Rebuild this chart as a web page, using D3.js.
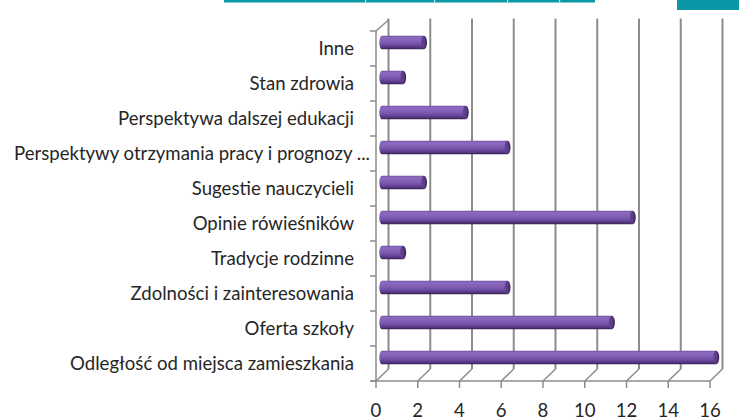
<!DOCTYPE html>
<html>
<head>
<meta charset="utf-8">
<script src="https://cdn.jsdelivr.net/npm/d3@7"></script>
<style>
  html, body { margin: 0; padding: 0; background: #ffffff; }
  svg { display: block; }
</style>
</head>
<body>
<div id="chart"></div>
<script>
// ---- data ----
const categories = [
  "Inne",
  "Stan zdrowia",
  "Perspektywa dalszej edukacji",
  "Perspektywy otrzymania pracy i prognozy ...",
  "Sugestie nauczycieli",
  "Opinie rówieśników",
  "Tradycje rodzinne",
  "Zdolności i zainteresowania",
  "Oferta szkoły",
  "Odległość od miejsca zamieszkania"
];
const values = [2, 1, 4, 6, 2, 12, 1, 6, 11, 16];
const xTicks = [0, 2, 4, 6, 8, 10, 12, 14, 16];

// ---- layout ----
const W = 739, H = 420;
const frontLeft = 376, frontRight = 710, frontTop = 31, frontBottom = 381;
const depthX = 12.5, depthY = -12;
const gridColor = "#8c8c8c";
const textColor = "#262626";
const fontFamily = "Lato, 'Open Sans', sans-serif";

const svg = d3.select("#chart").append("svg")
  .attr("width", W).attr("height", H);

const x = d3.scaleLinear().domain([0, 16]).range([frontLeft, frontRight]);
const y = d3.scaleBand().domain(categories).range([frontTop, frontBottom]).padding(0);

// ---- decorative teal header remnants ----
svg.append("rect").attr("x", 224).attr("y", 0).attr("width", 371).attr("height", 2.5).attr("fill", "#0a98a6");
[365, 434, 507, 559].forEach(g => {
  svg.append("rect").attr("x", g).attr("y", 0).attr("width", 1.2).attr("height", 2.5).attr("fill", "#bfe6ea");
});
svg.append("rect").attr("x", 677).attr("y", 0).attr("width", 62).attr("height", 10).attr("fill", "#0a98a6");

// ---- gradients ----
const defs = svg.append("defs");
const g1 = defs.append("linearGradient").attr("id", "barGrad")
  .attr("x1", 0).attr("y1", 0).attr("x2", 0).attr("y2", 1);
[[0, "#6d4e9e"], [0.12, "#8b69bf"], [0.35, "#8563b8"], [0.6, "#7653aa"], [0.82, "#5b3b8a"], [1, "#35204f"]]
  .forEach(([o, c]) => g1.append("stop").attr("offset", o).attr("stop-color", c));
const g2 = defs.append("linearGradient").attr("id", "capGrad")
  .attr("x1", 0).attr("y1", 0).attr("x2", 1).attr("y2", 0);
[[0, "#6a4c98"], [1, "#3a2358"]].forEach(([o, c]) => g2.append("stop").attr("offset", o).attr("stop-color", c));

// ---- back wall gridlines ----
const grid = svg.append("g");
xTicks.forEach(t => {
  grid.append("line")
    .attr("x1", x(t) + depthX).attr("x2", x(t) + depthX)
    .attr("y1", frontTop + depthY - 0.5).attr("y2", frontBottom + depthY)
    .attr("stroke", gridColor).attr("stroke-width", 2);
  grid.append("line")
    .attr("x1", x(t)).attr("x2", x(t) + depthX)
    .attr("y1", frontBottom).attr("y2", frontBottom + depthY)
    .attr("stroke", gridColor).attr("stroke-width", 1.5);
  grid.append("line")
    .attr("x1", x(t)).attr("x2", x(t))
    .attr("y1", frontBottom).attr("y2", frontBottom + 7)
    .attr("stroke", gridColor).attr("stroke-width", 1.5);
});
grid.append("line").attr("x1", frontLeft).attr("x2", frontLeft)
  .attr("y1", frontTop).attr("y2", frontBottom).attr("stroke", gridColor).attr("stroke-width", 1.5);
grid.append("line").attr("x1", frontLeft).attr("x2", frontLeft + depthX)
  .attr("y1", frontTop).attr("y2", frontTop + depthY + 1).attr("stroke", gridColor).attr("stroke-width", 1.5);
grid.append("line").attr("x1", frontLeft - 6).attr("x2", frontRight)
  .attr("y1", frontBottom).attr("y2", frontBottom).attr("stroke", gridColor).attr("stroke-width", 1.5);
const bounds = categories.map(c => y(c)).concat([frontBottom]);
bounds.forEach(b => {
  grid.append("line").attr("x1", frontLeft - 6).attr("x2", frontLeft)
    .attr("y1", b).attr("y2", b).attr("stroke", gridColor).attr("stroke-width", 1.5);
});

// ---- bars (cylinders) ----
const barH = 13.6, capRx = 3;
const bars = svg.append("g");
categories.forEach((c, i) => {
  const v = values[i];
  const cy = y(c) + y.bandwidth() / 2 + depthY / 2;
  const x0 = x(0) + depthX / 2;
  const x1 = x(v) + depthX / 2;
  const top = cy - barH / 2;
  const p = d3.path();
  p.moveTo(x1, top);
  p.lineTo(x0, top);
  p.bezierCurveTo(x0 - capRx * 1.3, top, x0 - capRx * 1.3, top + barH, x0, top + barH);
  p.lineTo(x1, top + barH);
  p.closePath();
  bars.append("path").attr("d", p.toString()).attr("fill", "url(#barGrad)");
  bars.append("ellipse").attr("cx", x1).attr("cy", cy).attr("rx", capRx).attr("ry", barH / 2)
    .attr("fill", "url(#capGrad)");
  bars.append("ellipse").attr("cx", x1 - 0.6).attr("cy", cy).attr("rx", capRx * 0.55).attr("ry", barH / 2 - 1.5)
    .attr("fill", "#5d3f8a");
});

// ---- category labels ----
const labels = svg.append("g")
  .attr("font-family", fontFamily).attr("font-size", 16.5).attr("fill", textColor);
const texts = categories.map(c => labels.append("text")
    .attr("x", c.endsWith("...") ? 370 : 354)
    .attr("y", y(c) + y.bandwidth() / 2)
    .attr("dy", "0.35em")
    .attr("text-anchor", "end")
    .text(c));
const refNode = texts[texts.length - 1].node();
const measured = refNode.getComputedTextLength();
const labelSize = Math.max(14, Math.min(20, 16.5 * 284 / measured));
labels.attr("font-size", labelSize);

// ---- x tick labels ----
const xl = svg.append("g")
  .attr("font-family", fontFamily).attr("font-size", labelSize).attr("fill", textColor);
xTicks.forEach(t => {
  xl.append("text").attr("x", x(t)).attr("y", frontBottom + 29)
    .attr("dy", "0.35em")
    .attr("text-anchor", "middle").text(t);
});
</script>
</body>
</html>
